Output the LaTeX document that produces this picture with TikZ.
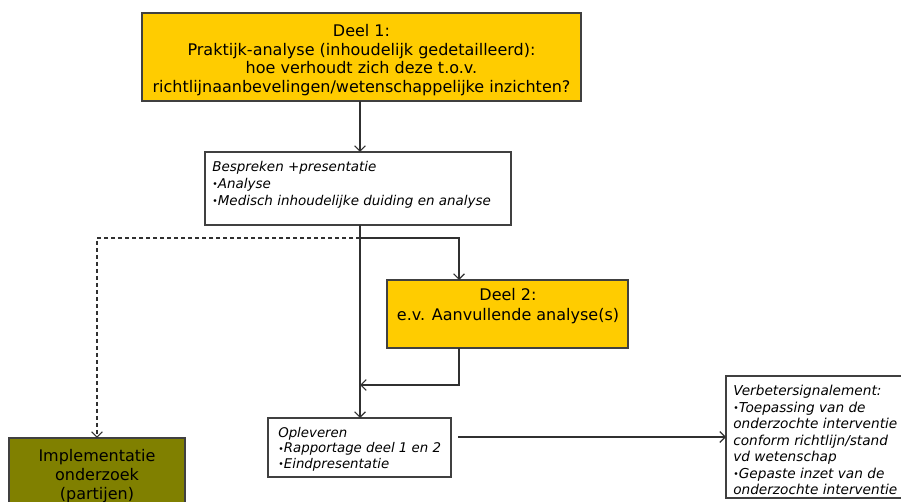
\documentclass[tikz,border=0pt]{standalone}
\usepackage{fontspec}
\setmainfont{DejaVu Sans}
\usetikzlibrary{arrows.meta}
\definecolor{gold}{HTML}{FFCC00}
\definecolor{olive}{HTML}{808000}
\definecolor{edgegray}{HTML}{404040}
\definecolor{linegray}{HTML}{303030}
\newcommand\bul{\makebox[4.2pt][l]{\fontsize{7pt}{0pt}\selectfont\raisebox{0.5pt}{•}}}
\tikzset{
  box/.style={draw=edgegray, line width=0.9pt, inner sep=0pt, outer sep=0pt, anchor=north west},
  conn/.style={draw=linegray, line width=0.9pt},
  arr/.style={conn, -{Straight Barb[length=4pt,width=8pt]}},
  bigtxt/.style={font=\fontsize{12pt}{14pt}\selectfont, align=center, inner sep=0pt},
  smtxt/.style={font=\fontsize{10.1pt}{12.4pt}\selectfont\itshape, align=left, inner sep=0pt, anchor=north west},
}
\begin{document}
\begin{tikzpicture}[x=0.75pt,y=-0.75pt]
\useasboundingbox (0,0) rectangle (901,502);
\clip (0,0) rectangle (901,502);
% boxes
\node[box, fill=gold, minimum width=439*0.75pt, minimum height=88*0.75pt] (d1) at (142,13) {};
\node[box, fill=white, minimum width=306*0.75pt, minimum height=73*0.75pt] (bes) at (205,152) {};
\node[box, fill=gold, minimum width=241*0.75pt, minimum height=68*0.75pt] (d2) at (387,280) {};
\node[box, fill=white, minimum width=183*0.75pt, minimum height=59*0.75pt] (opl) at (268,418) {};
\node[box, fill=white, minimum width=210*0.75pt, minimum height=122*0.75pt] (ver) at (726,376) {};
\node[box, fill=olive, minimum width=176*0.75pt, minimum height=80*0.75pt] (impl) at (9,438) {};
% texts
\node[bigtxt] (d1t) at (361.5,60) {Deel 1:\\Praktijk-analyse (inhoudelijk gedetailleerd):\\hoe verhoudt zich deze t.o.v.\\richtlijnaanbevelingen/wetenschappelijke inzichten?};
\node[smtxt] (best) at (212,161.5) {Bespreken +presentatie\\\bul Analyse\\\bul Medisch inhoudelijke duiding en analyse};
\node[bigtxt, font=\fontsize{12pt}{15pt}\selectfont] (d2t) at (508,306) {Deel 2:\\e.v. Aanvullende analyse(s)};
\node[smtxt, font=\fontsize{10pt}{11.6pt}\selectfont\itshape] (oplt) at (278,427) {Opleveren\\\bul Rapportage deel 1 en 2\\\bul Eindpresentatie};
\node[smtxt, font=\fontsize{10.25pt}{12.4pt}\selectfont\itshape] (vert) at (733,385) {Verbetersignalement:\\\bul Toepassing van de\\onderzochte interventie\\conform richtlijn/stand\\vd wetenschap\\\bul Gepaste inzet van de\\onderzochte interventie};
\node[bigtxt, font=\fontsize{12pt}{14.5pt}\selectfont] (implt) at (97,476) {Implementatie\\onderzoek\\(partijen)};
% connectors
\coordinate (j) at (360,238);
\coordinate (ret) at (360,385);
\draw[arr] (d1.south -| j) -- (bes.north -| j);
\draw[arr] (bes.south -| j) -- (opl.north -| j);
\draw[arr] (j) -| ([xshift=72*0.75pt]d2.north west);
\draw[arr, dash pattern=on 3pt off 2.25pt] (j) -| (impl.north);
\draw[arr] ([xshift=72*0.75pt]d2.south west) |- (ret);
\draw[arr, shorten <=5.25pt] (opl.east |- ver.west) -- (ver.west);
\end{tikzpicture}
\end{document}
